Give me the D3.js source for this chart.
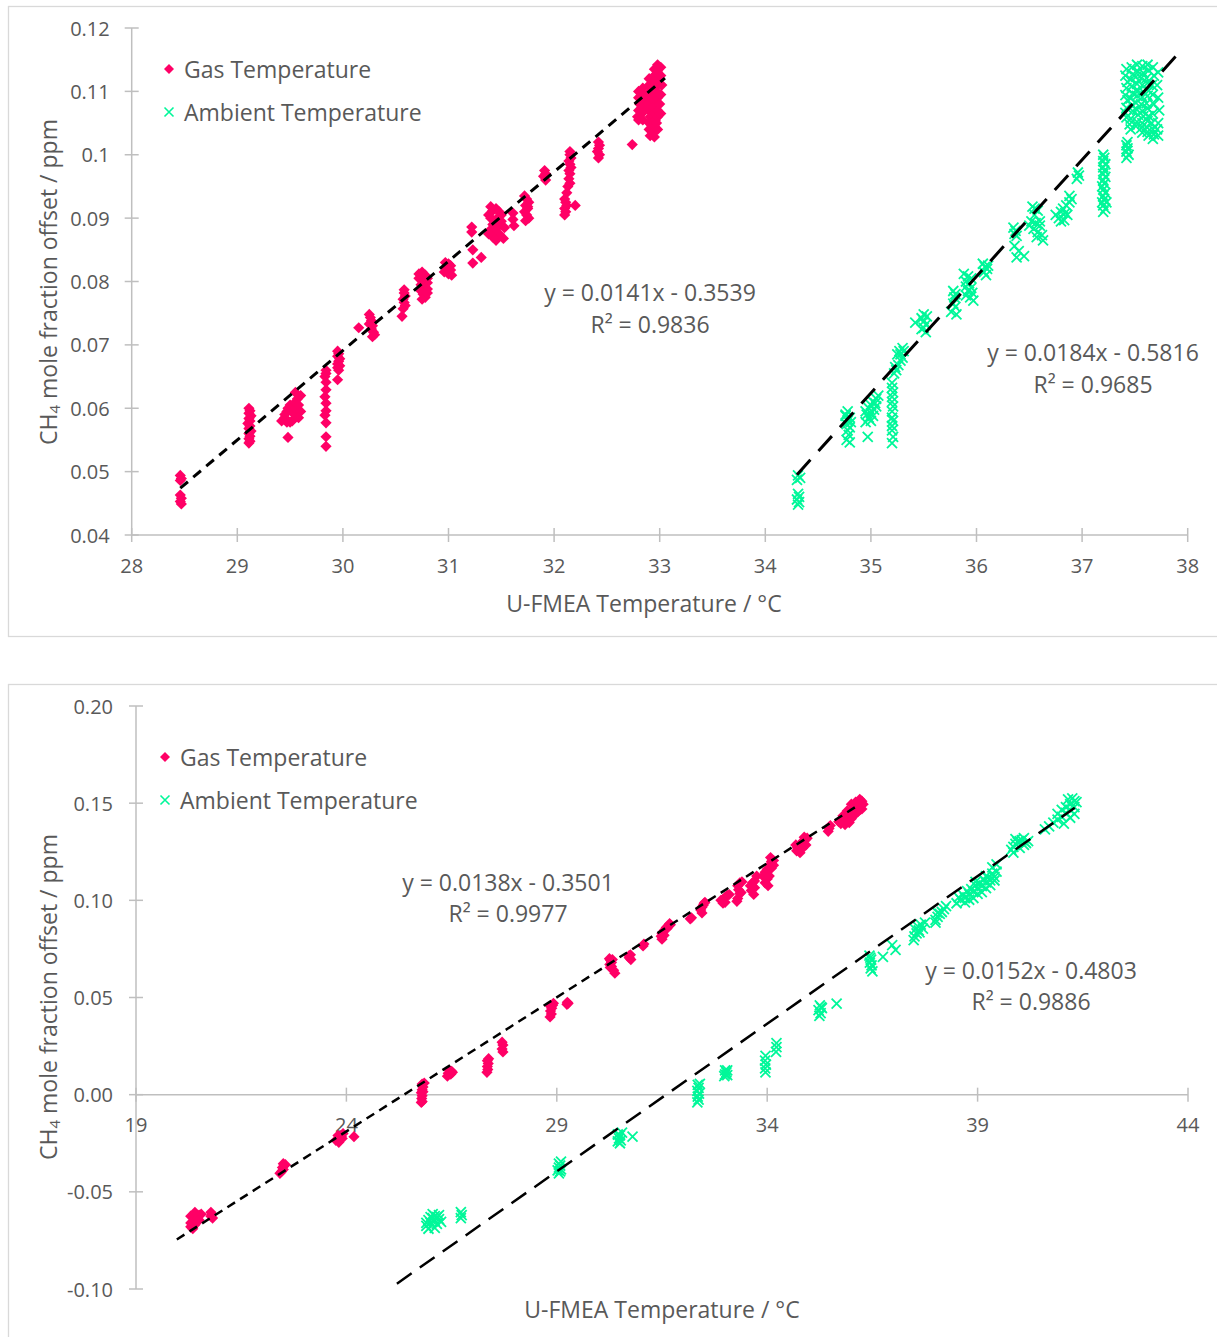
<!DOCTYPE html>
<html>
<head>
<meta charset="utf-8">
<script src="https://cdn.jsdelivr.net/npm/d3@7"></script>
<style>
  body { margin: 0; background: #fff; }
  svg { display: block; }
  text { font-family: "Open Sans", sans-serif; fill: #595959; }
</style>
</head>
<body>
<svg id="chart" width="1217" height="1337"></svg>
<script>
// ---------- Data: [U-FMEA temperature °C, CH4 offset ppm] ----------

// Upper panel, gas temperature
const topGas = [
  [28.46,0.0494],[28.47,0.0489],[28.46,0.0486],[28.46,0.0463],[28.47,0.0458],[28.46,0.0453],[28.47,0.0449],
  [29.11,0.0600],[29.12,0.0596],[29.11,0.0592],[29.13,0.0588],[29.11,0.0584],[29.12,0.0580],[29.10,0.0576],
  [29.12,0.0572],[29.11,0.0568],[29.13,0.0564],[29.11,0.0560],[29.12,0.0556],[29.11,0.0552],[29.12,0.0548],[29.11,0.0545],
  [29.45,0.0585],[29.45,0.0590],[29.47,0.0595],[29.48,0.0600],[29.50,0.0605],[29.50,0.0598],[29.52,0.0580],
  [29.53,0.0592],[29.55,0.0600],[29.55,0.0610],[29.57,0.0615],[29.58,0.0605],[29.60,0.0620],[29.60,0.0595],
  [29.58,0.0585],[29.50,0.0578],[29.47,0.0578],[29.42,0.0580],[29.55,0.0625],[29.48,0.0554],
  [29.84,0.0660],[29.84,0.0655],[29.83,0.0650],[29.84,0.0641],[29.84,0.0629],[29.83,0.0618],[29.84,0.0608],
  [29.84,0.0596],[29.83,0.0589],[29.84,0.0577],[29.84,0.0555],[29.84,0.0540],
  [29.95,0.0690],[29.96,0.0686],[29.95,0.0682],[29.97,0.0678],[29.96,0.0674],[29.95,0.0670],[29.97,0.0667],
  [29.95,0.0664],[29.96,0.0660],[29.95,0.0645],
  [30.15,0.0727],[30.25,0.0748],[30.26,0.0743],[30.27,0.0738],[30.25,0.0733],[30.28,0.0730],[30.27,0.0725],
  [30.29,0.0720],[30.30,0.0716],[30.28,0.0713],
  [30.58,0.0787],[30.58,0.0782],[30.59,0.0777],[30.57,0.0772],[30.58,0.0767],[30.59,0.0762],[30.57,0.0757],[30.56,0.0745],
  [30.72,0.0812],[30.75,0.0815],[30.78,0.0810],[30.80,0.0805],[30.72,0.0805],[30.76,0.0800],[30.80,0.0798],
  [30.74,0.0795],[30.78,0.0790],[30.80,0.0788],[30.74,0.0785],[30.76,0.0780],[30.78,0.0775],[30.75,0.0772],[30.80,0.0782],
  [30.97,0.0830],[31.00,0.0828],[31.02,0.0825],[30.98,0.0820],[31.02,0.0818],[30.96,0.0815],[31.00,0.0812],[31.03,0.0810],
  [31.22,0.0886],[31.22,0.0878],[31.23,0.0850],[31.23,0.0829],[31.31,0.0838],
  [31.40,0.0918],[31.42,0.0912],[31.45,0.0915],[31.48,0.0910],[31.50,0.0905],[31.38,0.0905],[31.40,0.0900],
  [31.45,0.0898],[31.50,0.0895],[31.42,0.0890],[31.46,0.0885],[31.40,0.0882],[31.44,0.0878],[31.48,0.0875],
  [31.42,0.0870],[31.45,0.0865],[31.52,0.0868],[31.38,0.0875],[31.47,0.0890],[31.53,0.0885],
  [31.61,0.0908],[31.61,0.0898],[31.62,0.0888],
  [31.72,0.0935],[31.74,0.0930],[31.76,0.0925],[31.73,0.0920],[31.75,0.0915],[31.72,0.0910],[31.74,0.0905],
  [31.76,0.0900],[31.73,0.0896],[31.75,0.0918],
  [31.91,0.0975],[31.92,0.0970],[31.90,0.0966],[31.92,0.0960],
  [32.15,0.1005],[32.15,0.1000],[32.16,0.0995],[32.14,0.0990],[32.15,0.0985],[32.16,0.0980],[32.14,0.0975],
  [32.15,0.0970],[32.14,0.0962],[32.15,0.0955],[32.13,0.0950],[32.12,0.0940],[32.10,0.0930],[32.11,0.0925],
  [32.12,0.0920],[32.10,0.0915],[32.11,0.0910],[32.10,0.0905],[32.20,0.0920],
  [32.42,0.1020],[32.43,0.1015],[32.42,0.1010],[32.41,0.1005],[32.43,0.1000],[32.42,0.0995],
  [32.74,0.1016],
  [32.80,0.1100],[32.80,0.1090],[32.81,0.1080],[32.80,0.1070],[32.79,0.1060],[32.80,0.1055],
  [32.84,0.1105],[32.84,0.1095],[32.85,0.1085],[32.84,0.1075],[32.83,0.1065],[32.84,0.1055],
  [32.90,0.1120],[32.90,0.1110],[32.91,0.1100],[32.90,0.1090],[32.89,0.1080],[32.90,0.1070],[32.91,0.1060],
  [32.90,0.1050],[32.90,0.1040],[32.91,0.1030],
  [32.95,0.1135],[32.95,0.1125],[32.94,0.1115],[32.95,0.1105],[32.96,0.1095],[32.95,0.1085],[32.94,0.1075],
  [32.95,0.1065],[32.96,0.1055],[32.95,0.1045],[32.94,0.1035],[32.95,0.1028],
  [32.98,0.1142],[32.98,0.1130],[32.99,0.1120],[32.98,0.1110],[32.97,0.1100],[32.98,0.1090],[32.99,0.1080],
  [32.98,0.1070],[32.98,0.1060],[32.97,0.1050],[32.98,0.1040],
  [33.01,0.1138],[33.01,0.1125],[33.02,0.1110],[33.01,0.1095],[33.00,0.1080],[33.01,0.1065]
];

// Upper panel, ambient temperature
const topAmbient = [
  [34.31,0.0494],[34.33,0.0490],[34.30,0.0487],[34.31,0.0465],[34.32,0.0460],[34.30,0.0456],[34.32,0.0452],[34.31,0.0448],
  [34.78,0.0595],[34.76,0.0590],[34.80,0.0585],[34.78,0.0580],[34.77,0.0575],[34.80,0.0570],[34.78,0.0565],
  [34.79,0.0558],[34.77,0.0550],[34.80,0.0546],[34.76,0.0588],[34.81,0.0578],
  [34.97,0.0555],[34.95,0.0595],[34.98,0.0600],[35.00,0.0605],[35.02,0.0610],[35.05,0.0615],[35.07,0.0620],
  [34.96,0.0590],[35.00,0.0592],[35.03,0.0598],[35.05,0.0603],[34.98,0.0585],[35.02,0.0588],[35.00,0.0580],
  [34.95,0.0578],[35.04,0.0608],
  [35.20,0.0640],[35.20,0.0632],[35.21,0.0625],[35.20,0.0618],[35.20,0.0610],[35.21,0.0603],[35.20,0.0595],
  [35.20,0.0585],[35.21,0.0580],[35.20,0.0572],[35.20,0.0565],[35.21,0.0555],[35.20,0.0545],
  [35.22,0.0655],[35.24,0.0660],[35.26,0.0668],[35.28,0.0675],[35.30,0.0680],[35.27,0.0690],[35.30,0.0695],
  [35.25,0.0685],[35.23,0.0665],[35.28,0.0685],[35.31,0.0690],
  [35.42,0.0735],[35.48,0.0742],[35.50,0.0737],[35.52,0.0732],[35.50,0.0727],[35.53,0.0745],[35.48,0.0725],
  [35.52,0.0720],[35.50,0.0748],
  [35.78,0.0785],[35.80,0.0780],[35.79,0.0775],[35.78,0.0765],[35.80,0.0760],[35.76,0.0752],[35.81,0.0748],
  [35.88,0.0812],[35.92,0.0808],[35.95,0.0805],[35.90,0.0800],[35.93,0.0797],[35.95,0.0790],[35.90,0.0792],
  [35.92,0.0785],[35.96,0.0782],[35.94,0.0775],[35.97,0.0770],[35.90,0.0778],
  [36.06,0.0828],[36.08,0.0823],[36.10,0.0820],[36.07,0.0815],[36.09,0.0810],[36.11,0.0825],
  [36.35,0.0885],[36.37,0.0880],[36.36,0.0875],[36.38,0.0872],[36.36,0.0856],[36.40,0.0848],[36.38,0.0838],[36.45,0.0840],
  [36.53,0.0918],[36.55,0.0915],[36.58,0.0912],[36.55,0.0905],[36.52,0.0895],[36.56,0.0892],[36.60,0.0888],
  [36.54,0.0883],[36.58,0.0878],[36.62,0.0873],[36.57,0.0870],[36.63,0.0865],[36.60,0.0895],[36.50,0.0888],
  [36.75,0.0905],[36.80,0.0910],[36.82,0.0915],[36.85,0.0920],[36.88,0.0925],[36.78,0.0900],[36.83,0.0897],
  [36.86,0.0905],[36.88,0.0935],[36.80,0.0895],[36.84,0.0908],[36.90,0.0930],
  [36.96,0.0972],[36.97,0.0967],[36.95,0.0962],
  [37.20,0.1000],[37.21,0.0995],[37.20,0.0990],[37.22,0.0985],[37.20,0.0980],[37.21,0.0975],[37.20,0.0970],
  [37.22,0.0965],[37.20,0.0960],[37.21,0.0955],[37.19,0.0950],[37.20,0.0945],[37.22,0.0940],[37.20,0.0935],
  [37.21,0.0930],[37.19,0.0925],[37.20,0.0920],[37.22,0.0915],[37.20,0.0910],[37.23,0.0925],
  [37.42,0.1015],[37.43,0.1010],[37.42,0.1005],[37.44,0.1000],[37.42,0.0995],[37.43,0.1020],
  [37.42,0.1135],[37.41,0.1125],[37.43,0.1115],[37.42,0.1105],[37.41,0.1094],[37.43,0.1086],[37.42,0.1074],[37.41,0.1066],[37.42,0.1059],
  [37.47,0.1138],[37.48,0.1127],[37.46,0.1119],[37.47,0.1108],[37.48,0.1097],[37.46,0.1089],[37.47,0.1078],[37.48,0.1069],[37.46,0.1057],
  [37.45,0.1048],[37.46,0.1040],
  [37.52,0.1142],[37.53,0.1131],[37.51,0.1123],[37.52,0.1112],[37.53,0.1101],[37.52,0.1093],[37.51,0.1082],
  [37.52,0.1071],[37.53,0.1063],[37.52,0.1052],[37.51,0.1045],
  [37.57,0.1140],[37.58,0.1129],[37.56,0.1121],[37.57,0.1110],[37.58,0.1099],[37.57,0.1091],[37.56,0.1080],
  [37.57,0.1069],[37.58,0.1061],[37.57,0.1050],[37.56,0.1042],[37.57,0.1035],
  [37.62,0.1142],[37.63,0.1133],[37.61,0.1121],[37.62,0.1113],[37.63,0.1101],[37.62,0.1093],[37.61,0.1081],
  [37.62,0.1073],[37.63,0.1061],[37.62,0.1053],[37.61,0.1044],[37.62,0.1036],[37.63,0.1030],
  [37.67,0.1138],[37.68,0.1125],[37.66,0.1110],[37.67,0.1095],[37.68,0.1080],[37.67,0.1065],[37.66,0.1050],
  [37.67,0.1040],[37.68,0.1032],[37.67,0.1025],
  [37.72,0.1130],[37.71,0.1110],[37.72,0.1090],[37.73,0.1070],[37.72,0.1050],[37.71,0.1040],[37.72,0.1030]
];

// Lower panel, gas temperature
const bottomGas = [
  [20.30,-0.0625],[20.35,-0.0630],[20.40,-0.0635],[20.45,-0.0640],[20.30,-0.0660],[20.35,-0.0665],[20.40,-0.0670],
  [20.45,-0.0655],[20.50,-0.0620],[20.55,-0.0615],[20.40,-0.0605],[20.30,-0.0680],[20.50,-0.0645],[20.35,-0.0690],
  [20.78,-0.0605],[20.80,-0.0615],[20.78,-0.0625],[20.82,-0.0635],
  [22.50,-0.0355],[22.52,-0.0365],[22.48,-0.0375],[22.50,-0.0385],[22.46,-0.0395],[22.55,-0.0360],[22.42,-0.0405],
  [23.80,-0.0210],[23.85,-0.0220],[23.90,-0.0225],[23.75,-0.0235],[23.82,-0.0245],[23.88,-0.0215],[23.92,-0.0200],[24.18,-0.0216],
  [25.80,0.0055],[25.82,0.0040],[25.80,0.0025],[25.78,0.0010],[25.80,-0.0005],[25.79,-0.0020],[25.80,-0.0035],
  [25.85,0.0060],[25.82,0.0015],[25.78,-0.0040],
  [26.45,0.0125],[26.50,0.0120],[26.42,0.0110],[26.48,0.0105],[26.52,0.0115],[26.40,0.0095],
  [27.35,0.0175],[27.37,0.0160],[27.35,0.0145],[27.36,0.0130],[27.38,0.0185],[27.34,0.0115],
  [27.70,0.0270],[27.72,0.0255],[27.70,0.0235],[27.72,0.0220],
  [28.85,0.0455],[28.90,0.0460],[28.88,0.0445],[28.85,0.0430],[28.87,0.0415],[28.92,0.0470],[28.84,0.0400],
  [29.25,0.0475],[29.27,0.0470],[29.24,0.0465],
  [30.25,0.0700],[30.28,0.0690],[30.30,0.0680],[30.26,0.0670],[30.30,0.0660],[30.32,0.0695],[30.35,0.0640],
  [30.38,0.0625],[30.27,0.0655],
  [30.72,0.0715],[30.75,0.0720],[30.72,0.0705],[30.76,0.0695],
  [31.05,0.0765],[31.07,0.0775],
  [31.50,0.0830],[31.55,0.0845],[31.60,0.0860],[31.65,0.0870],[31.70,0.0875],[31.50,0.0800],[31.55,0.0820],
  [31.62,0.0855],[31.68,0.0880],[31.48,0.0815],
  [32.17,0.0905],[32.20,0.0910],
  [32.45,0.0965],[32.48,0.0975],[32.50,0.0985],[32.42,0.0950],[32.45,0.0935],[32.52,0.0990],
  [32.90,0.1000],[32.95,0.1005],[33.00,0.1015],[33.05,0.1025],[33.10,0.1030],[33.00,0.0990],[32.95,0.0985],
  [33.30,0.1075],[33.35,0.1090],[33.32,0.1055],[33.38,0.1040],[33.30,0.1010],[33.35,0.1035],[33.28,0.0995],[33.40,0.1095],
  [33.60,0.1075],[33.65,0.1090],[33.70,0.1100],[33.62,0.1050],[33.70,0.1065],[33.75,0.1125],[33.68,0.1030],
  [33.90,0.1125],[33.95,0.1145],[34.00,0.1160],[34.05,0.1180],[34.10,0.1200],[34.15,0.1205],[34.00,0.1110],
  [34.05,0.1125],[34.10,0.1165],[34.15,0.1180],[33.95,0.1090],[34.02,0.1075],[34.12,0.1185],[34.08,0.1220],
  [34.70,0.1255],[34.75,0.1275],[34.80,0.1290],[34.85,0.1305],[34.90,0.1310],[34.72,0.1270],[34.78,0.1245],
  [34.85,0.1270],[34.92,0.1285],[34.95,0.1320],[34.68,0.1285],[34.88,0.1325],
  [35.47,0.1370],[35.50,0.1385],[35.45,0.1355],
  [35.75,0.1395],[35.80,0.1410],[35.85,0.1425],[35.90,0.1435],[35.95,0.1445],[36.00,0.1455],[36.05,0.1470],
  [36.10,0.1480],[36.15,0.1490],[36.20,0.1500],[36.25,0.1510],[35.80,0.1435],[35.90,0.1460],[36.00,0.1420],
  [36.05,0.1440],[36.10,0.1445],[36.15,0.1455],[36.20,0.1465],[36.25,0.1470],[35.85,0.1390],[35.95,0.1400],
  [36.20,0.1520],[36.28,0.1495],[36.00,0.1495],[36.10,0.1505],[35.70,0.1405]
];

// Lower panel, ambient temperature
const bottomAmbient = [
  [25.95,-0.0645],[26.00,-0.0660],[26.05,-0.0635],[26.10,-0.0650],[26.15,-0.0665],[26.20,-0.0620],[25.90,-0.0675],
  [26.00,-0.0630],[26.10,-0.0685],[26.20,-0.0640],[25.95,-0.0690],[26.05,-0.0615],[26.15,-0.0630],[26.25,-0.0655],
  [25.90,-0.0660],[26.10,-0.0625],
  [26.72,-0.0605],[26.74,-0.0620],[26.72,-0.0635],
  [29.05,-0.0355],[29.08,-0.0365],[29.05,-0.0375],[29.10,-0.0385],[29.02,-0.0390],[29.08,-0.0395],[29.05,-0.0405],[29.10,-0.0345],
  [30.45,-0.0205],[30.50,-0.0210],[30.48,-0.0225],[30.52,-0.0235],[30.45,-0.0240],[30.50,-0.0250],[30.55,-0.0195],[30.80,-0.0216],
  [32.35,0.0050],[32.37,0.0035],[32.34,0.0020],[32.38,0.0005],[32.35,-0.0010],[32.37,-0.0025],[32.34,-0.0040],[32.40,0.0055],
  [33.00,0.0125],[33.03,0.0115],[33.00,0.0105],[33.05,0.0100],[32.98,0.0095],[33.05,0.0125],
  [33.96,0.0200],[33.95,0.0175],[33.97,0.0155],[33.95,0.0135],[33.96,0.0115],
  [34.22,0.0265],[34.22,0.0245],[34.21,0.0220],
  [35.25,0.0460],[35.28,0.0450],[35.22,0.0435],[35.27,0.0420],[35.24,0.0405],[35.30,0.0445],[35.65,0.0468],
  [36.45,0.0705],[36.47,0.0695],[36.44,0.0680],[36.48,0.0665],[36.46,0.0650],[36.50,0.0635],[36.43,0.0715],
  [36.75,0.0709],[36.97,0.0770],[37.05,0.0745],
  [37.50,0.0815],[37.55,0.0830],[37.60,0.0845],[37.52,0.0850],[37.58,0.0865],[37.65,0.0875],[37.48,0.0795],
  [37.62,0.0835],[37.70,0.0855],[37.75,0.0885],
  [38.00,0.0900],[38.05,0.0915],[38.10,0.0930],[38.15,0.0940],[38.20,0.0955],[38.05,0.0935],[38.00,0.0885],[38.25,0.0970],
  [38.50,0.0985],[38.60,0.1002],[38.70,0.1013],[38.80,0.1032],[38.90,0.1044],[39.00,0.1062],[39.10,0.1073],
  [39.20,0.1092],[39.30,0.1103],[39.40,0.1121],[38.55,0.1015],[38.65,0.1028],[38.75,0.1047],[38.85,0.1058],
  [38.95,0.1077],[39.05,0.1088],[39.15,0.1107],[39.25,0.1118],[39.35,0.1137],[39.45,0.1148],[38.70,0.0990],
  [38.80,0.1003],[38.90,0.1012],[39.00,0.1033],[39.10,0.1042],[39.20,0.1063],[39.30,0.1078],[39.40,0.1102],
  [38.95,0.1095],[39.20,0.1125],[39.35,0.1170],[39.45,0.1185],
  [39.80,0.1260],[39.85,0.1275],[39.90,0.1290],[39.95,0.1300],[40.00,0.1305],[40.05,0.1310],[40.10,0.1320],
  [39.85,0.1245],[40.00,0.1270],[40.10,0.1285],[40.15,0.1295],[39.90,0.1315],[40.20,0.1305],
  [40.70,0.1380],[40.80,0.1400],[40.90,0.1415],[41.00,0.1430],[41.10,0.1450],[41.20,0.1465],[41.30,0.1480],
  [41.00,0.1465],[41.10,0.1480],[41.20,0.1495],[41.30,0.1510],[41.15,0.1520],[41.25,0.1525],[41.30,0.1445],
  [41.20,0.1425],[40.90,0.1445],[41.05,0.1395],[41.35,0.1505],[40.60,0.1365]
];

// Linear fits: [slope, intercept, R², temperature span of the drawn line]
const topGasFit       = [0.0141, -0.3539, 0.9836, [28.46, 33.05]];
const topAmbientFit   = [0.0184, -0.5816, 0.9685, [34.30, 37.96]];
const bottomGasFit    = [0.0138, -0.3501, 0.9977, [19.97, 36.20]];
const bottomAmbientFit= [0.0152, -0.4803, 0.9886, [25.20, 41.31]];

// Axis ticks and labels
const topXTicks = [28, 29, 30, 31, 32, 33, 34, 35, 36, 37, 38];
const topYTicks = [0.04, 0.05, 0.06, 0.07, 0.08, 0.09, 0.10, 0.11, 0.12];
const topYLabels = ["0.04", "0.05", "0.06", "0.07", "0.08", "0.09", "0.1", "0.11", "0.12"];
const bottomXTicks = [19, 24, 29, 34, 39, 44];
const bottomYTicks = [-0.10, -0.05, 0.00, 0.05, 0.10, 0.15, 0.20];
const bottomYLabels = ["-0.10", "-0.05", "0.00", "0.05", "0.10", "0.15", "0.20"];

const seriesNames = ["Gas Temperature", "Ambient Temperature"];
const xTitle = "U-FMEA Temperature / °C";

// ---------- Drawing ----------
const GAS = "#ff0066", AMB = "#00f799", AXIS = "#bfbfbf";
const svg = d3.select("#chart");

const diamond = r => `M0,${-r}L${r},0L0,${r}L${-r},0Z`;
const cross = r => `M${-r},${-r}L${r},${r}M${-r},${r}L${r},${-r}`;

function drawPanel(cfg) {
  const g = svg.append("g");
  // outer frame
  g.append("rect")
    .attr("x", cfg.frame[0]).attr("y", cfg.frame[1])
    .attr("width", cfg.frame[2]).attr("height", cfg.frame[3])
    .attr("fill", "none").attr("stroke", "#d9d9d9").attr("stroke-width", 1.3);

  const x = d3.scaleLinear().domain(cfg.xDomain).range(cfg.xRange);
  const y = d3.scaleLinear().domain(cfg.yDomain).range(cfg.yRange);
  const xAxisY = y(cfg.xAxisAt);
  const yAxisX = x(cfg.xDomain[0]);

  // axis lines
  g.append("line").attr("x1", x(cfg.xDomain[0])).attr("x2", x(cfg.xDomain[1]))
    .attr("y1", xAxisY).attr("y2", xAxisY).attr("stroke", AXIS).attr("stroke-width", 1.5);
  g.append("line").attr("x1", yAxisX).attr("x2", yAxisX)
    .attr("y1", y(cfg.yDomain[0])).attr("y2", y(cfg.yDomain[1])).attr("stroke", AXIS).attr("stroke-width", 1.5);

  // x ticks (crossing the axis)
  g.selectAll(".xt").data(cfg.xTicks).join("line")
    .attr("x1", d => x(d)).attr("x2", d => x(d))
    .attr("y1", xAxisY - 7).attr("y2", xAxisY + 7)
    .attr("stroke", AXIS).attr("stroke-width", 1.5);
  g.selectAll(".xl").data(cfg.xTicks).join("text")
    .attr("x", d => x(d)).attr("y", xAxisY + 30)
    .attr("text-anchor", "middle").attr("dominant-baseline", "central")
    .attr("font-size", 20).text(d => d);

  // y ticks
  g.selectAll(".yt").data(cfg.yTicks).join("line")
    .attr("x1", yAxisX - 7).attr("x2", yAxisX + 7)
    .attr("y1", d => y(d)).attr("y2", d => y(d))
    .attr("stroke", AXIS).attr("stroke-width", 1.5);
  g.selectAll(".yl").data(cfg.yTicks).join("text")
    .attr("x", yAxisX - cfg.yLabelGap).attr("y", d => y(d))
    .attr("text-anchor", "end").attr("dominant-baseline", "central")
    .attr("font-size", 20).text((d, i) => cfg.yLabels[i]);

  // axis titles
  g.append("text").attr("x", cfg.xTitlePos[0]).attr("y", cfg.xTitlePos[1])
    .attr("text-anchor", "middle").attr("dominant-baseline", "central")
    .attr("font-size", 23).text(xTitle);
  const yt = g.append("text")
    .attr("transform", `translate(${cfg.yTitlePos[0]},${cfg.yTitlePos[1]}) rotate(-90)`)
    .attr("text-anchor", "middle").attr("dominant-baseline", "central").attr("font-size", 23);
  yt.append("tspan").text("CH");
  yt.append("tspan").attr("font-size", 15).attr("dy", 6).text("4");
  yt.append("tspan").attr("dy", -6).text(" mole fraction offset / ppm");

  // scatter points
  g.append("g").selectAll("path").data(cfg.gas).join("path")
    .attr("transform", d => `translate(${x(d[0])},${y(d[1])})`)
    .attr("d", diamond(5.6)).attr("fill", GAS);
  g.append("g").selectAll("path").data(cfg.amb).join("path")
    .attr("transform", d => `translate(${x(d[0])},${y(d[1])})`)
    .attr("d", cross(5)).attr("fill", "none").attr("stroke", AMB).attr("stroke-width", 1.8);

  // trend lines
  cfg.fits.forEach((f, i) => {
    const [m, c, , span] = f;
    g.append("line")
      .attr("x1", x(span[0])).attr("y1", y(m * span[0] + c))
      .attr("x2", x(span[1])).attr("y2", y(m * span[1] + c))
      .attr("stroke", "#000").attr("stroke-width", cfg.fitWidth)
      .attr("stroke-dasharray", cfg.dashes[i]);
  });

  // trend equations
  cfg.fits.forEach((f, i) => {
    const [m, c, r2] = f;
    const p = cfg.eqPos[i];
    const sign = c < 0 ? "-" : "+";
    g.append("text").attr("x", p[0]).attr("y", p[1])
      .attr("text-anchor", "middle").attr("dominant-baseline", "central").attr("font-size", 23)
      .text(`y = ${m.toFixed(4)}x ${sign} ${Math.abs(c).toFixed(4)}`);
    g.append("text").attr("x", p[0]).attr("y", p[1] + cfg.eqGap)
      .attr("text-anchor", "middle").attr("dominant-baseline", "central").attr("font-size", 23)
      .text(`R² = ${r2.toFixed(4)}`);
  });

  // legend
  const lg = g.append("g").attr("transform", `translate(${cfg.legend[0]},${cfg.legend[1]})`);
  lg.append("path").attr("d", diamond(5)).attr("fill", GAS);
  lg.append("path").attr("transform", `translate(0,${cfg.legendGap})`)
    .attr("d", cross(4.5)).attr("fill", "none").attr("stroke", AMB).attr("stroke-width", 1.6);
  seriesNames.forEach((name, i) => {
    lg.append("text").attr("x", 15).attr("y", i * cfg.legendGap)
      .attr("dominant-baseline", "central").attr("font-size", 23).text(name);
  });
}

drawPanel({
  frame: [8.5, 6.5, 1300, 630],
  xDomain: [28, 38], xRange: [131.7, 1187.7],
  yDomain: [0.04, 0.12], yRange: [535, 28],
  xAxisAt: 0.04, xTicks: topXTicks, yTicks: topYTicks, yLabels: topYLabels, yLabelGap: 22,
  xTitlePos: [644, 603], yTitlePos: [48, 282],
  gas: topGas, amb: topAmbient,
  fits: [topGasFit, topAmbientFit], fitWidth: 3, dashes: ["10,7", "20,12"],
  eqPos: [[650, 292], [1093, 352]], eqGap: 32,
  legend: [169, 69], legendGap: 43
});

drawPanel({
  frame: [8.5, 684.5, 1300, 700],
  xDomain: [19, 44], xRange: [136, 1188],
  yDomain: [-0.10, 0.20], yRange: [1289, 706],
  xAxisAt: 0, xTicks: bottomXTicks, yTicks: bottomYTicks, yLabels: bottomYLabels, yLabelGap: 23,
  xTitlePos: [662, 1309], yTitlePos: [48, 997],
  gas: bottomGas, amb: bottomAmbient,
  fits: [bottomGasFit, bottomAmbientFit], fitWidth: 2.5, dashes: ["9,6", "18,10"],
  eqPos: [[508, 882], [1031, 970]], eqGap: 31,
  legend: [165, 757], legendGap: 43
});
</script>
</body>
</html>
